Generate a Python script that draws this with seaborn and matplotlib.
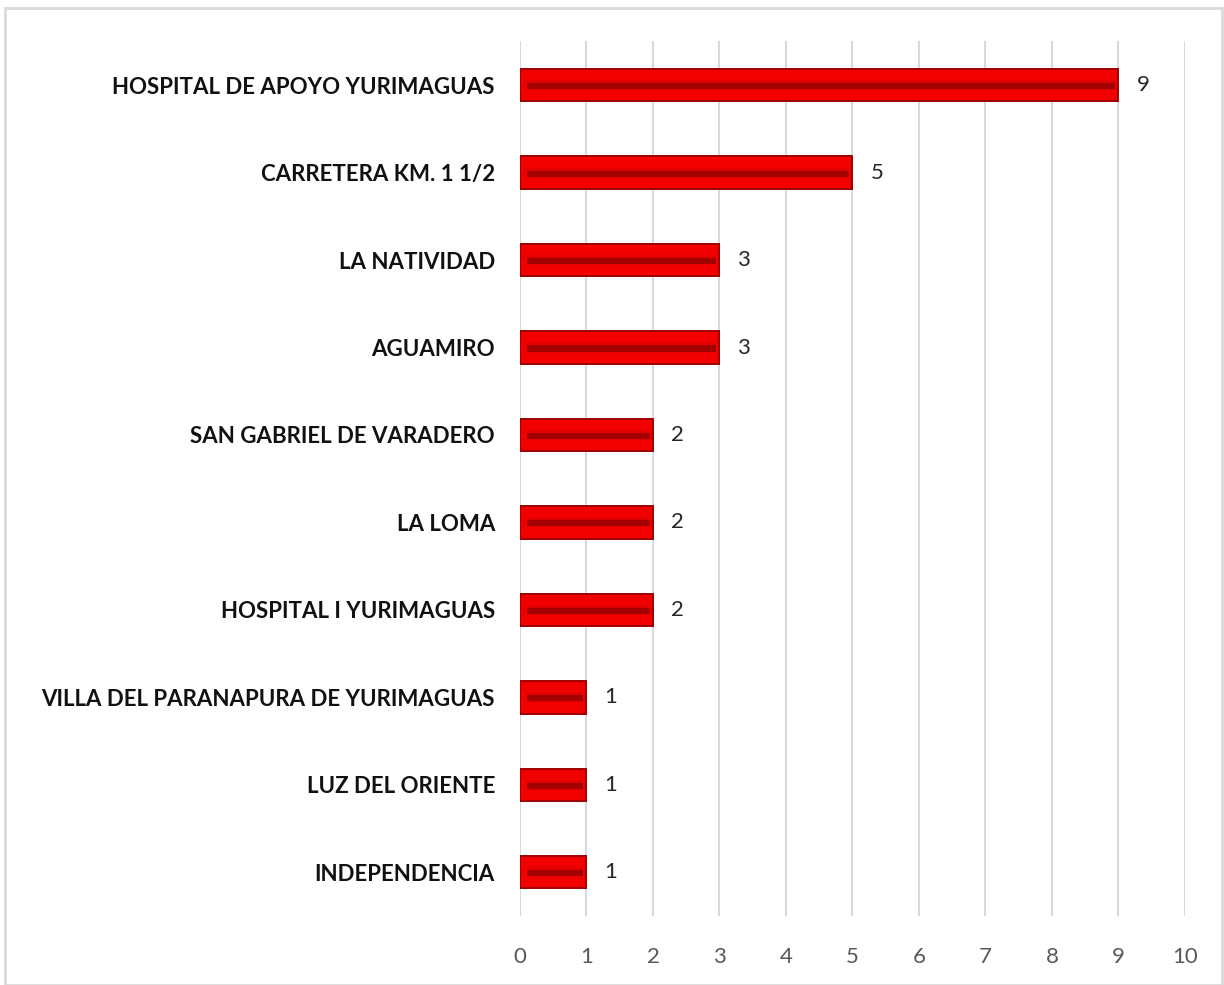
import matplotlib
matplotlib.use("Agg")
import matplotlib.pyplot as plt
import seaborn as sns
import pandas as pd
from matplotlib.patches import Rectangle

categories = ["HOSPITAL DE APOYO YURIMAGUAS", "CARRETERA KM. 1 1/2", "LA NATIVIDAD",
              "AGUAMIRO", "SAN GABRIEL DE VARADERO", "LA LOMA", "HOSPITAL I YURIMAGUAS",
              "VILLA DEL PARANAPURA DE YURIMAGUAS", "LUZ DEL ORIENTE", "INDEPENDENCIA"]
values = [9, 5, 3, 3, 2, 2, 2, 1, 1, 1]
xticks = list(range(0, 11))

df = pd.DataFrame({"cat": categories, "val": values})

sns.set_theme(style="white")
plt.rcParams['font.family'] = ['Lato', 'DejaVu Sans']

fig = plt.figure(figsize=(12.24, 9.85), dpi=100)
ax = fig.add_axes([0.4248, 0.070, 0.9681 - 0.4248, 0.888])

sns.barplot(data=df, y="cat", x="val", orient="h", color="#F20000",
            saturation=1, width=0.37, edgecolor="#A00000", linewidth=1.4, ax=ax, zorder=3)

# inner bevel stripe
for i, v in enumerate(values):
    ax.hlines(i, 0.1, v - 0.05, color="#A30000", linewidth=6, zorder=4)
    ax.hlines(i - 0.035, 0.1, v - 0.05, color="#E00000", linewidth=1.5, zorder=4)

ax.bar_label(ax.containers[0], labels=[str(v) for v in values], padding=13,
             fontsize=16, color="#262626")
for t in ax.texts:
    t.set_va("center")

ax.set_xlim(0, 10)
ax.set_ylim(len(categories) - 0.5, -0.5)
ax.set_xticks(xticks)
ax.set_xticklabels([str(t) for t in xticks], fontsize=16, color="#595959")
ax.tick_params(axis="x", length=0, pad=22)
ax.tick_params(axis="y", length=0, pad=18)
for lab in ax.get_yticklabels():
    lab.set_fontsize(16)
    lab.set_fontweight("bold")
    lab.set_color("#111111")
ax.set_xlabel("")
ax.set_ylabel("")
ax.grid(axis="x", color="#D9D9D9", linewidth=1.5, zorder=0)
ax.set_axisbelow(True)
for s in ax.spines.values():
    s.set_visible(False)

fig.patches.append(Rectangle((0.004, 0.0), 0.994, 0.992, transform=fig.transFigure,
                             fill=False, edgecolor="#D9D9D9", linewidth=2))

fig.savefig("out.png", dpi=100)
